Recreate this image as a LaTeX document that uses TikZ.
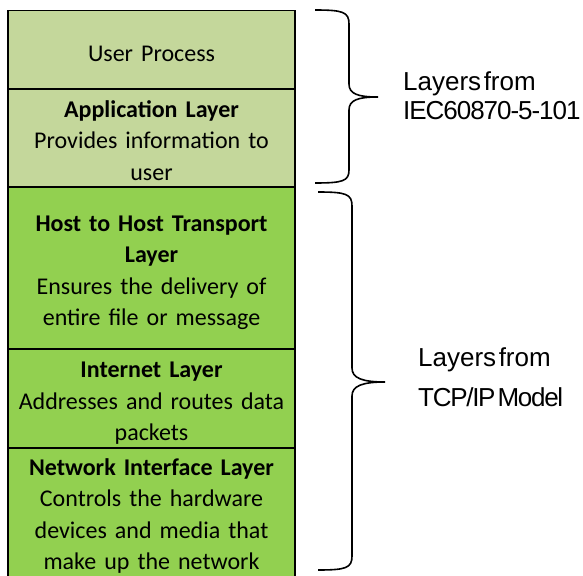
\documentclass[tikz,border=0pt]{standalone}
\usepackage{fontspec}
\setmainfont[WordSpace=0.8]{Carlito}
\newfontfamily\sidefont[WordSpace=0.35]{Liberation Sans}
\definecolor{paleolive}{HTML}{C4D79B}
\definecolor{leafgreen}{HTML}{92D050}
\tikzset{
  layerbox/.style={draw=black, line width=1.5bp, minimum width=287bp, inner sep=0pt},
  upperlayer/.style={layerbox, fill=paleolive},
  lowerlayer/.style={layerbox, fill=leafgreen},
  layertext/.style={inner sep=0pt, align=center, text width=270bp,
    font=\fontsize{24bp}{31.5bp}\selectfont},
  bracepath/.style={draw=black, line width=1.6bp},
  sidenote/.style={anchor=west, align=left, inner sep=0pt}
}
\begin{document}
\begin{tikzpicture}[x=1bp, y=-1bp]
\useasboundingbox (0,0) rectangle (583,576);
\clip (0,0) rectangle (583,576);

% protocol stack, top to bottom
\node[upperlayer, minimum height=78.5bp] (user) at (151.5,49.75) {};
\node[upperlayer, minimum height=98bp] (app) at (151.5,138) {};
\node[lowerlayer, minimum height=162bp] (host) at (151.5,268) {};
\node[lowerlayer, minimum height=99bp] (inet) at (151.5,398.5) {};
\node[lowerlayer, minimum height=136bp] (netif) at (151.5,516) {};

% layer captions
\node[layertext, yshift=-4bp] (usertext) at (user.center) {User Process};
\node[layertext, yshift=-2.5bp] (apptext) at (app.center)
  {\textbf{Application Layer}\\Provides information to\\user};
\node[layertext, yshift=-5bp] (hosttext) at (host.center)
  {\textbf{Host to Host Transport}\\\textbf{Layer}\\Ensures the delivery of\\entire file or message};
\node[layertext, yshift=-5bp] (inettext) at (inet.center)
  {\textbf{Internet Layer}\\Addresses and routes data\\packets};
\node[layertext] (netiftext) at (netif.center)
  {\textbf{Network Interface Layer}\\Controls the hardware\\devices and media that\\make up the network};

% brace over the upper two layers
\draw[bracepath] (315,10) .. controls (343,10) and (349,12) .. (349,24)
  -- (349,84) .. controls (349,94) and (358,97) .. (378,97)
  (378,97) .. controls (358,97) and (349,100) .. (349,110)
  -- (349,170) .. controls (349,181) and (343,183) .. (315,183);
% brace over the lower three layers
\draw[bracepath] (318,192) .. controls (346,192) and (352,194) .. (352,206)
  -- (352,368) .. controls (352,378) and (362,382) .. (385,382)
  (385,382) .. controls (362,382) and (352,386) .. (352,396)
  -- (352,556) .. controls (352,568) and (346,570) .. (318,570);

\node[sidenote, font=\sidefont\fontsize{26bp}{29bp}\selectfont] (iecnote) at (403,96)
  {Layers from\\\addfontfeature{LetterSpace=-4}IEC60870-5-101};
\node[sidenote, font=\sidefont\fontsize{26bp}{40bp}\selectfont] (tcpnote) at (418,377)
  {Layers from\\\addfontfeature{LetterSpace=-5}TCP/IP Model};
\end{tikzpicture}
\end{document}
